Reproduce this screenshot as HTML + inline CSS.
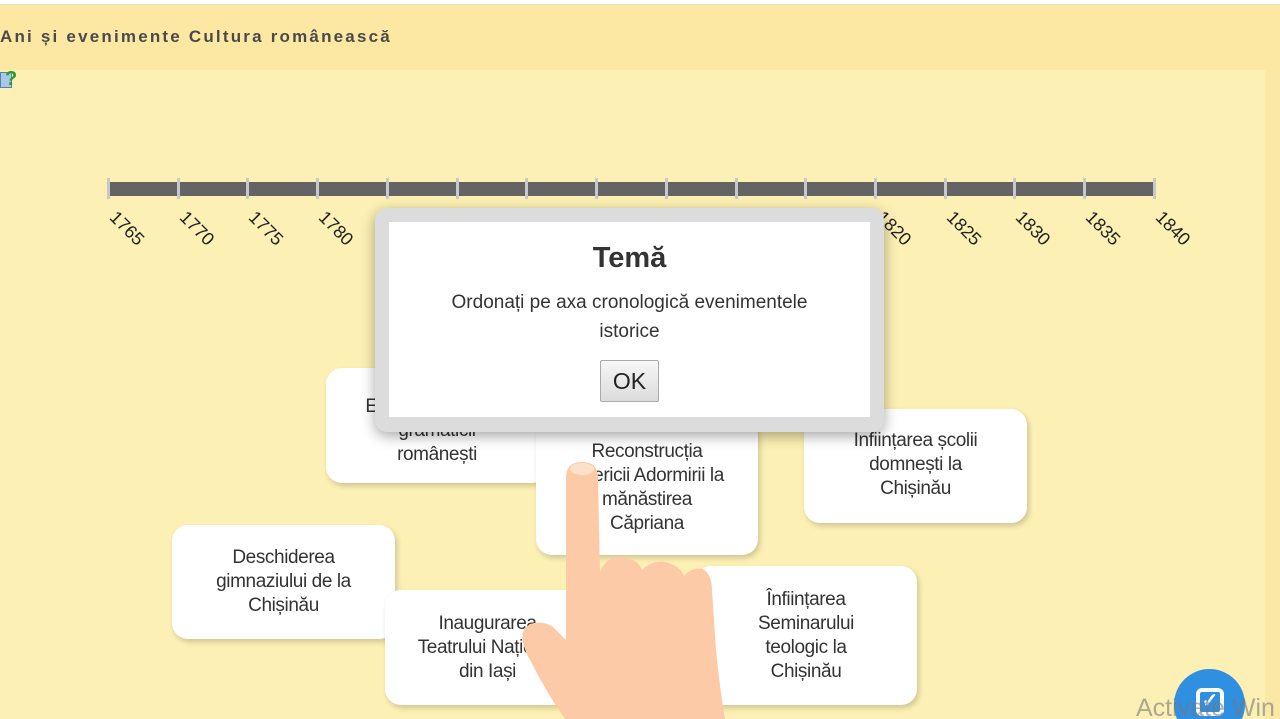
<!DOCTYPE html>
<html><head><meta charset="utf-8"><style>
*{margin:0;padding:0;box-sizing:border-box}
html,body{width:1280px;height:719px;overflow:hidden}
body{background:#fdf0b4;font-family:"Liberation Sans",sans-serif;position:relative}
.top{position:absolute;left:0;top:0;width:1280px;height:5px;background:#fff;border-bottom:1px solid #e6e0c8}
.hdr{position:absolute;left:0;top:5px;width:1280px;height:65px;background:#fde8a3}
.hdr span{position:absolute;left:0;top:22px;font-size:17px;font-weight:bold;letter-spacing:2.2px;color:#4a4a4a}
.rs{position:absolute;left:1265px;top:70px;width:15px;height:649px;background:#fbe7a6}
.bar{position:absolute;left:108px;top:182px;width:1047px;height:14px;background:#646464}
.tk{position:absolute;top:178px;width:3px;height:21px;background:#c8c8c8}
.yr{position:absolute;top:207px;font-size:18px;color:#222;transform-origin:0 0;transform:rotate(45deg)}
.card{position:absolute;background:#fff;border-radius:16px;box-shadow:2px 3px 6px rgba(0,0,0,.18);display:flex;align-items:center;justify-content:center;text-align:center;font-size:19px;line-height:24px;color:#333;white-space:nowrap;letter-spacing:-0.4px}
.modal{position:absolute;left:375px;top:208px;width:509px;height:224px;background:#dcdcdc;border-radius:12px;box-shadow:0 4px 14px rgba(0,0,0,.35)}
.inner{position:absolute;left:14px;top:14px;width:481px;height:195px;background:#fff;text-align:center}
.inner h1{font-size:29px;margin-top:20px;color:#333}
.inner p{font-size:19px;line-height:29px;color:#333;margin-top:13px}
.ok{position:absolute;left:211px;top:138px;width:59px;height:42px;border:1px solid #aaa;background:linear-gradient(#f6f6f6,#dcdcdc);font-size:23px;line-height:40px;color:#222;border-radius:2px}
</style></head><body>
<div class="top"></div>
<div class="hdr"><span>Ani și evenimente Cultura românească</span></div>
<div class="rs"></div>
<div style="position:absolute;left:0;top:72px;width:12px;height:16px;background:#a8c8e8;border:1px solid #5a7fb0"></div>
<div style="position:absolute;left:5px;top:68px;font-size:20px;font-weight:bold;color:#2a9a2a">?</div>
<div class="bar"></div>
<div class="tk" style="left:107px"></div><div class="tk" style="left:177px"></div><div class="tk" style="left:246px"></div><div class="tk" style="left:316px"></div><div class="tk" style="left:386px"></div><div class="tk" style="left:456px"></div><div class="tk" style="left:525px"></div><div class="tk" style="left:595px"></div><div class="tk" style="left:665px"></div><div class="tk" style="left:735px"></div><div class="tk" style="left:804px"></div><div class="tk" style="left:874px"></div><div class="tk" style="left:944px"></div><div class="tk" style="left:1013px"></div><div class="tk" style="left:1083px"></div><div class="tk" style="left:1153px"></div>
<div class="yr" style="left:120px">1765</div><div class="yr" style="left:190px">1770</div><div class="yr" style="left:259px">1775</div><div class="yr" style="left:329px">1780</div>
<div class="yr" style="left:887px">1820</div><div class="yr" style="left:957px">1825</div><div class="yr" style="left:1026px">1830</div><div class="yr" style="left:1096px">1835</div><div class="yr" style="left:1166px">1840</div>
<div class="card" style="left:326px;top:368px;width:222px;height:115px;padding-top:10px">Elaborarea primei<br>gramaticii<br>românești</div>
<div class="card" style="left:536px;top:420px;width:222px;height:135px;padding-top:0">Reconstrucția<br>bisericii Adormirii la<br>mănăstirea<br>Căpriana</div>
<div class="card" style="left:804px;top:409px;width:223px;height:114px;padding-bottom:2px">Înființarea școlii<br>domnești la<br>Chișinău</div>
<div class="card" style="left:172px;top:525px;width:223px;height:114px">Deschiderea<br>gimnaziului de la<br>Chișinău</div>
<div class="card" style="left:385px;top:590px;width:225px;height:115px;padding-right:20px">Inaugurarea<br>Teatrului Național<br>din Iași</div>
<div class="card" style="left:695px;top:566px;width:222px;height:139px">Înființarea<br>Seminarului<br>teologic la<br>Chișinău</div>
<svg style="position:absolute;left:0;top:0" width="1280" height="719">
<path d="M566 478 Q566 462 582 462 Q598 462 598 478 L600 572 Q606 556 622 557 Q638 559 642 570 Q652 560 666 562 Q680 566 684 576 Q692 567 703 569 Q712 575 712 590 L716 650 Q720 690 725 719 L565 719 Q545 690 530 660 Q518 638 525 628 Q535 618 552 626 L566 640 Z" fill="#fdcaa7"/>
<ellipse cx="582" cy="469" rx="12" ry="6" fill="#fde0cc"/>
</svg>
<div class="modal"><div class="inner"><h1>Temă</h1><p>Ordonați pe axa cronologică evenimentele<br>istorice</p><div class="ok">OK</div></div></div>
<div style="position:absolute;left:1174px;top:669px;width:71px;height:71px;border-radius:50%;background:#2f8fe0"></div>
<div style="position:absolute;left:1196px;top:688px;width:28px;height:28px;border:4px solid #fff;border-radius:6px;color:#fff;font-size:20px;font-weight:bold;line-height:18px;text-align:center">✓</div>
<div style="position:absolute;left:1136px;top:694px;font-size:25px;color:rgba(120,120,120,.6)">Activate Win</div>
</body></html>
